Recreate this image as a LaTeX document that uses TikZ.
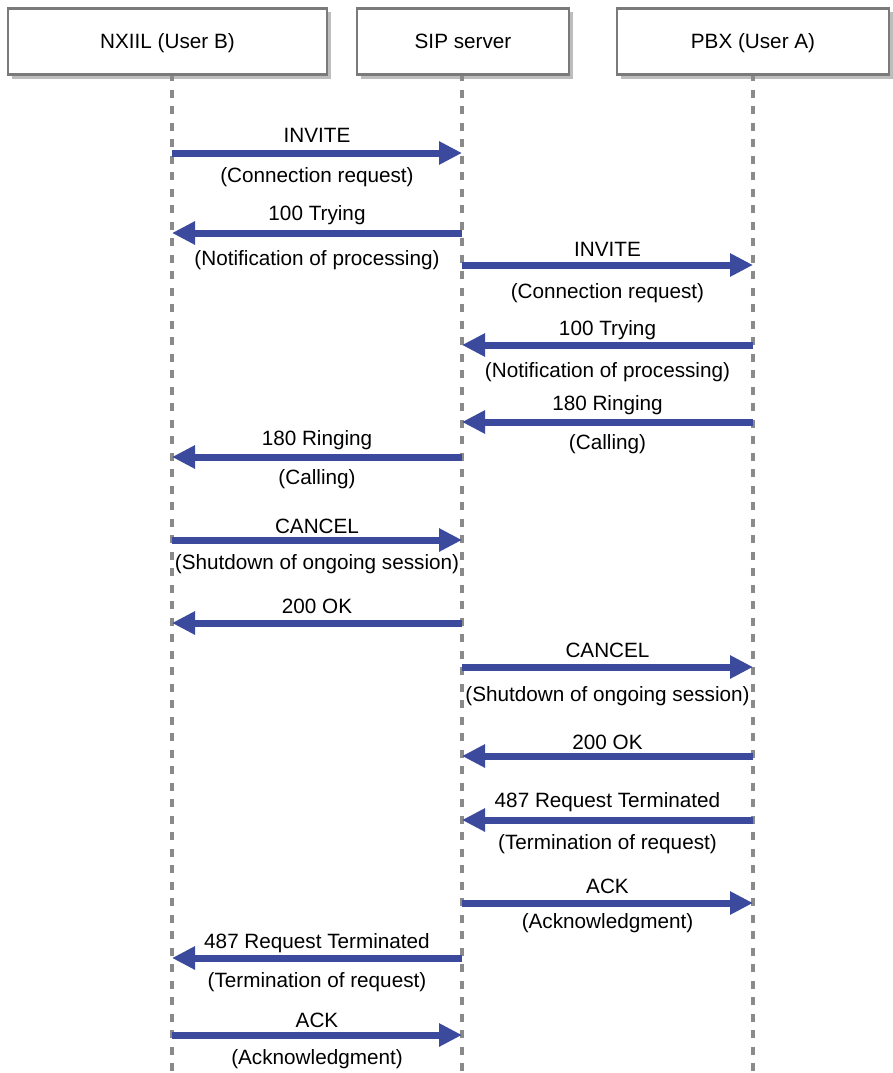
\documentclass[tikz,border=0pt]{standalone}
\usepackage{fontspec}
\setmainfont{Liberation Sans}
\usetikzlibrary{arrows.meta}
\definecolor{msgblue}{HTML}{3B4A9C}
\definecolor{boxgray}{HTML}{7A7A7A}
\definecolor{shadowgray}{HTML}{BDBDBD}
\definecolor{lifegray}{HTML}{8A8A8A}
\begin{document}
\begin{tikzpicture}[x=1pt,y=-1pt,
  actor/.style={draw=boxgray,line width=2.6pt,fill=white,minimum height=66pt,inner sep=0pt,font=\fontsize{20.7}{23}\selectfont},
  lifeline/.style={draw=lifegray,line width=3.2pt,dash pattern=on 8pt off 8.5pt,dash phase=3pt},
  msg/.style={draw=msgblue,line width=7pt,-{Triangle[length=23pt,width=22pt]}},
  lbl/.style={font=\fontsize{20.7}{23}\selectfont,inner sep=0pt,anchor=center,yshift=-2pt}]
\useasboundingbox (0,0) rectangle (893,1073);
% shadows
\fill[shadowgray] (12,12) rectangle (331,79);
\fill[shadowgray] (361,12) rectangle (573,79);
\fill[shadowgray] (621,12) rectangle (895,79);
% lifeline coordinates
\coordinate (Btop) at (172,76);
\coordinate (Stop) at (462,76);
\coordinate (Ptop) at (753,76);
\coordinate (Bbot) at (172,1073);
\coordinate (Sbot) at (462,1073);
\coordinate (Pbot) at (753,1073);
\draw[lifeline] (Btop) -- (Bbot);
\draw[lifeline] (Stop) -- (Sbot);
\draw[lifeline] (Ptop) -- (Pbot);
% actors
\node[actor,minimum width=319pt,text depth=0pt,text height=0pt] (B) at (167.5,41.5) {\raisebox{-0.35em}{NXIIL (User B)}};
\node[actor,minimum width=212pt,text depth=0pt,text height=0pt] (S) at (463,41.5) {\raisebox{-0.35em}{SIP server}};
\node[actor,minimum width=272pt,text depth=0pt,text height=0pt] (P) at (753,41.5) {\raisebox{-0.35em}{PBX (User A)}};
% message endpoints
\foreach \n/\y in {1/153,2/233,3/265,4/345,5/422,6/457,7/540,8/623,9/667,10/756,11/820,12/903,13/958,14/1035}{
  \coordinate (b\n) at (172,\y);
  \coordinate (s\n) at (462,\y);
  \coordinate (p\n) at (753,\y);
}
\draw[msg] (b1) -- (s1);
\draw[msg] (s2) -- (b2);
\draw[msg] (s3) -- (p3);
\draw[msg] (p4) -- (s4);
\draw[msg] (p5) -- (s5);
\draw[msg] (s6) -- (b6);
\draw[msg] (b7) -- (s7);
\draw[msg] (s8) -- (b8);
\draw[msg] (s9) -- (p9);
\draw[msg] (p10) -- (s10);
\draw[msg] (p11) -- (s11);
\draw[msg] (s12) -- (p12);
\draw[msg] (s13) -- (b13);
\draw[msg] (b14) -- (s14);
% labels
\node[lbl] (l1a) at (317,133) {INVITE};
\node[lbl] (l1b) at (317,175) {(Connection request)};
\node[lbl] (l2a) at (317,213) {100 Trying};
\node[lbl] (l2b) at (317,258) {(Notification of processing)};
\node[lbl] (l3a) at (607.5,247) {INVITE};
\node[lbl] (l3b) at (607.5,291) {(Connection request)};
\node[lbl] (l4a) at (607.5,328) {100 Trying};
\node[lbl] (l4b) at (607.5,370) {(Notification of processing)};
\node[lbl] (l5a) at (607.5,403) {180 Ringing};
\node[lbl] (l5b) at (607.5,442) {(Calling)};
\node[lbl] (l6a) at (317,438) {180 Ringing};
\node[lbl] (l6b) at (317,477) {(Calling)};
\node[lbl] (l7a) at (317,524) {CANCEL};
\node[lbl] (l7b) at (317,562) {(Shutdown of ongoing session)};
\node[lbl] (l8a) at (317,604) {200 OK};
\node[lbl] (l9a) at (607.5,648) {CANCEL};
\node[lbl] (l9b) at (607.5,694) {(Shutdown of ongoing session)};
\node[lbl] (l10a) at (607.5,740) {200 OK};
\node[lbl] (l11a) at (607.5,800) {487 Request Terminated};
\node[lbl] (l11b) at (607.5,842) {(Termination of request)};
\node[lbl] (l12a) at (607.5,884) {ACK};
\node[lbl] (l12b) at (607.5,921) {(Acknowledgment)};
\node[lbl] (l13a) at (317,941) {487 Request Terminated};
\node[lbl] (l13b) at (317,980) {(Termination of request)};
\node[lbl] (l14a) at (317,1018) {ACK};
\node[lbl] (l14b) at (317,1057) {(Acknowledgment)};
\end{tikzpicture}
\end{document}
